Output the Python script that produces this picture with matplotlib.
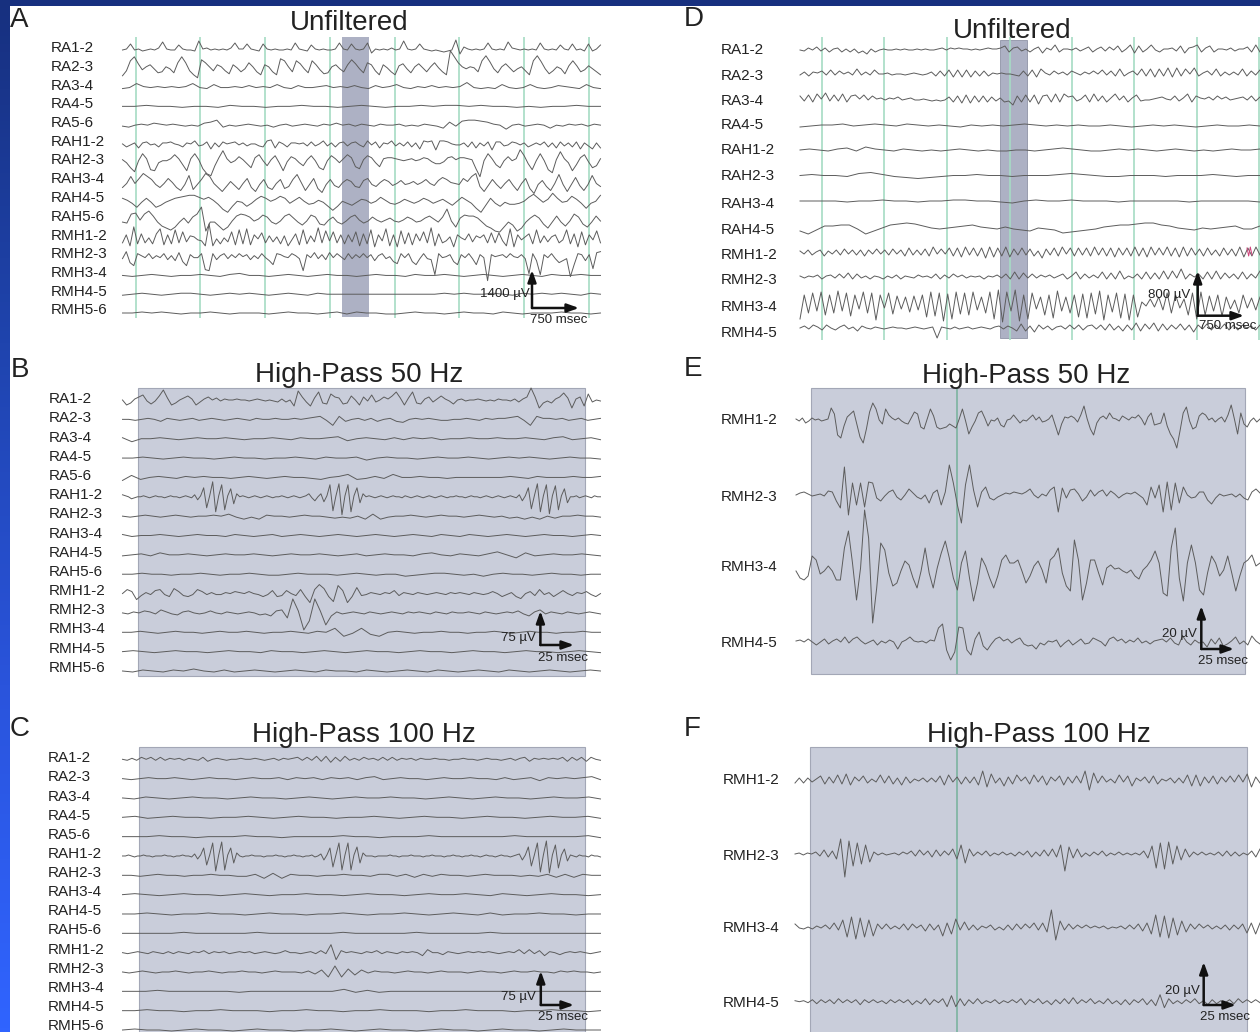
import numpy as np
import matplotlib
matplotlib.use('Agg')
import matplotlib.pyplot as plt
import matplotlib.patches as patches
from matplotlib.colors import LinearSegmentedColormap

plt.rcParams['font.family'] = ['Liberation Sans', 'DejaVu Sans']

# channel names
ch_abc = ['RA1-2', 'RA2-3', 'RA3-4', 'RA4-5', 'RA5-6', 'RAH1-2', 'RAH2-3', 'RAH3-4', 'RAH4-5', 'RAH5-6',
          'RMH1-2', 'RMH2-3', 'RMH3-4', 'RMH4-5', 'RMH5-6']
ch_d = ['RA1-2', 'RA2-3', 'RA3-4', 'RA4-5', 'RAH1-2', 'RAH2-3', 'RAH3-4', 'RAH4-5', 'RMH1-2', 'RMH2-3', 'RMH3-4', 'RMH4-5']
ch_ef = ['RMH1-2', 'RMH2-3', 'RMH3-4', 'RMH4-5']

# --- panel A, deflections ---
a_ra1_2 = [0,1,6,0,1,-1,0,1,0,2,8,1,0,0,5,1,0,0,-1,9,1,2,0,1,0,1,0,2,7,1,1,6,1,0,-1,6,1,0,1,0,0,1,0,7,1,0,-1,5,1,0,
           1,0,0,1,7,1,0,6,1,0,1,7,-3,1,0,1,0,2,0,1,9,1,0,1,6,1,0,-1,0,-1,-2,-1,0,10,-4,3,1,0,1,0,1,7,1,0,1,0,8,2,1,0,
           1,0,1,0,7,1,0,1,0,5,1,0,6,0,1,-1,6,-1,1,5]
a_ra2_3 = [-7,-2,8,12,5,-1,2,4,0,-4,-3,2,0,-4,6,12,6,-2,-6,-9,9,6,2,-2,4,2,-2,-5,4,1,-3,0,6,2,-3,-6,4,2,-3,-6,
           10,8,2,-3,8,5,0,-4,8,4,-1,-5,-4,2,4,0,-3,4,9,5,0,-4,6,4,-2,-6,4,1,-3,-6,3,5,0,-4,2,5,1,-3,2,6,
           1,-3,-6,18,12,6,2,0,2,1,-3,8,13,7,0,-4,2,5,1,-3,0,2,-2,-6,8,13,7,0,-5,-2,2,0,-5,3,8,3,-3,-1,3,0,-3,-6]
a_ra3_4 = [-1,0,4,1,0,1,0,1,0,1,4,0,-1,3,0,0,1,0,2,0,1,0,3,0,-1,2,0,0,1,2,0,1,0,2,0,-1,2,0,1,3,0,-1,1,0,2,0,1,0,
           1,5,0,-1,0,-1,3,0,-1,0,3,0,-1,0,2,1,0,-1,3,0,-1]
a_ra4_5 = [0,0,1,0,0,-1,0,0,-1,1,0,0,-1,0,0,1,0,0,-1,0,1,0,-1,0,0,1,0,1,1,0,1,0,0,-1,0,-1,0,0,1,0,0]
a_ra5_6 = [-1,-2,0,1,0,2,1,0,1,0,-1,0,-1,2,3,5,-2,0,-1,0,1,0,-1,0,-2,0,1,-1,0,1,0,-1,1,0,2,0,1,-1,1,0,-1,1,0,0,1,
           -1,0,-1,1,0,-1,-3,3,-1,4,5,5,4,3,1,0,-4,0,1,-1,0,1,0,-3,0,-1,1,0,1,-1,1,0]
a_rah1_2 = [0,-3,-1,1,-4,1,2,-1,0,-3,1,1,2,0,-1,-3,1,0,3,-2,-1,2,-5,1,-3,2,0,1,2,-1,1,-2,0,0,-2,-3,3,4,-4,2,
            0,-3,1,1,0,1,-2,2,-2,0,3,-2,1,-3,1,2,-2,1,2,-1,-3,3,-1,2,-4,1,0,3,-2,1,-2,2,-3,1,-5,3,2,3,-6,3,
            3,2,0,-1,-1,1,-3,2,-4,1,-2,2,-6,2,2,-2,-1,2,1,-1,1,-3,-1,1,-1,2,-3,1,-4,2,-2,1,-3,2,-5,1,-2,-5,1,-4]
a_rah2_3 = [3,0,-5,-9,2,9,4,-7,-8,0,2,2,4,8,4,-2,-8,4,9,3,-6,-11,-13,-3,5,12,4,0,2,6,3,-1,-5,5,8,2,-3,3,7,0,-8,1,6,
            4,0,-3,3,7,2,-5,-7,2,7,4,0,4,8,5,-4,-6,3,7,5,0,-4,4,5,5,4,3,2,3,4,2,3,5,4,1,-1,-1,1,5,6,3,5,5,4,3,-6,-14,
            2,9,4,-2,-5,2,6,2,4,13,7,-1,-7,2,9,2,-7,-10,3,11,4,0,-8,-2,5,8,1,-5,-3,4]
a_rah3_4 = [-6,-2,5,-2,3,8,5,2,-3,-6,-2,3,-1,-6,-9,-3,6,-8,-3,2,8,5,-2,-6,-10,-5,0,-4,-8,-2,3,-6,-10,-3,2,-6,-8,
            -2,2,-7,-5,2,7,-1,-9,-3,3,-7,-11,-3,2,-4,-6,-1,2,0,-5,-6,1,3,-3,-5,-1,2,0,-4,-2,1,-3,-2,0,-3,-1,2,-2,-4,1,4,2,-1,-2,-3,3,0,5,8,-5,-10,-4,2,-3,-7,
            -2,2,-4,-9,-2,3,-7,-12,-3,1,-5,-9,-2,7,-3,-10,-3,4,-4,-9,-3,6,-2,-5]
a_rah4_5 = [2,0,-3,-7,-2,2,-2,-7,-5,-2,0,2,3,4,5,5,3,1,3,0,-4,-9,-12,-6,-1,-2,-6,-3,1,4,2,-1,1,4,2,-3,0,3,-1,-4,-3,0,-2,-6,-10,-6,
            -1,-3,-5,-2,1,0,-3,-1,3,0,-3,-4,-2,1,-1,-3,-1,2,0,-3,-1,1,-2,-5,-1,3,0,-3,-8,-12,-5,2,-3,-6,-2,-4,-4,-3,-1,3,6,2,-2,1,7,2,-2,-1,4,1,-3,-8,-3,-1,5]
a_rah5_6 = [-3,-4,5,6,-1,5,8,3,-3,-7,-9,-11,-8,-3,1,-4,2,5,12,-12,-3,-3,-7,-11,-8,-2,3,5,4,2,-2,0,4,2,-3,-5,-2,3,5,1,-3,-6,-2,4,2,-5,-6,-1,2,-3,-5,-2,2,4,-1,-4,-2,2,-1,-3,-1,1,-2,-3,-1,2,0,-3,-2,1,3,0,-3,
            2,10,-2,-8,1,4,3,3,1,-3,-7,-9,-12,-13,-8,-3,-6,-12,-9,-3,1,4,1,-5,-9,-3,3,-3,-7,-2,5,2,-5,-8,-3,3,-2]
a_rmh1_2 = [-5,3,-8,11,-6,4,-5,0,-6,4,9,-7,3,-6,8,-5,6,-4,2,1,-2,-3,-8,14,-8,-1,-6,0,-4,6,-7,8,-6,9,-7,3,-1,5,-5,2,-4,1,-6,2,-8,-2,4,-7,8,-6,
            2,-4,10,-5,7,-3,6,-5,3,-6,3,-4,6,-8,4,-6,8,-9,3,-3,9,-8,3,-9,7,-6,5,-7,4,-3,6,-5,10,-8,4,-5,-3,1,-9,3,0,-2,4,-4,2,0,3,-5,5,-5,
            5,-3,-8,9,-9,3,-2,1,4,-6,8,-5,2,-4,1,3,-5,-2,8,-6,4,-9,6,-7,3,-2,7,-5]
a_rmh2_3 = [-2,5,-6,-9,3,1,-1,3,-2,1,-1,3,-3,1,-4,4,-5,-9,2,-1,-1,3,-13,-14,3,-3,1,3,-2,2,-1,3,0,2,-3,1,-2,3,-1,-4,-8,3,2,0,-1,3,1,-2,-14,2,
            -1,4,-2,2,-3,4,-1,3,0,-3,3,-2,2,-1,3,-1,2,-4,1,3,-2,0,-5,-7,3,-1,3,-5,-8,-2,3,-2,-3,-18,3,-1,0,2,-5,-8,2,-1,3,-2,-8,2,-1,-24,2,0,1,2,-1,3,0,-1,
            2,-2,-17,3,-4,-18,2,-1,3,-2,-6,-4,-2,-20,-8,3,2,-4,2,-12,4,5]
a_rmh3_4 = [0,-1,0,1,0,-1,0,0,1,0,-1,1,2,0,0,-1,0,1,0,-1,0,1,0,0,-1,0,1,0,0,-1,1,0,0,1,0,-1,0,1,0,-1,0,1,0,-1,1,0,0,1,0,0]
a_rmh4_5 = [-1,0,1,0,-1,0,1,1,0,-1,0,1,0,1,0,-1,0,1,0,-1,1,0,0,0,0,0,0,0,0,0,0,0,0,1,0,1,0,0,1,0,-1,1,0,1,0,1,0,-1,1,0]
a_rmh5_6 = [0,0,1,0,1,0,-1,0,0,1,0,-1,0,0,0,-1,0,1,0,0,-1,0,1,-1,1,0,0,-1,-1,0,1,0,0,-1,0,1,0,0,-1,1,0,-1,0,0,0,1,0,0,-1,0]

# --- panel B ---
b_ra1_2 = [0,-5,-3,1,3,5,-1,-4,-1,4,10,2,-5,-3,0,2,4,1,-5,-2,1,3,0,2,-1,1,0,0,1,0,0,-1,0,1,0,-1,0,-1,-2,1,-2,0,-6,9,3,-2,-6,2,8,-3,-4,6,
           3,2,-4,-3,4,0,-5,3,-1,5,-2,0,3,1,4,8,2,-5,2,8,-3,-4,1,3,-2,1,4,1,-1,-4,0,1,-1,0,0,1,0,-1,0,-1,1,0,0,-1,1,-2,1,3,12,3,-8,-3,-1,
           -3,1,3,7,2,-8,1,3,-6,6,-2,0,-1]
b_ra2_3 = [0,0,-1,0,1,0,-2,1,0,-1,0,1,-1,0,1,0,-1,0,1,0,-1,1,0,0,1,0,0,1,0,1,2,3,-1,-6,3,-2,0,1,-1,1,-2,0,1,-2,-3,0,1,0,1,0,-1,-1,0,0,1,0,-1,1,0,1,1,2,3,-1,-6,3,1,1,0,1,-1,0,1,-1,0,1]
b_ra3_4 = [1,-3,0,0,1,0,-1,0,1,0,0,1,0,-1,0,0,1,0,-1,1,0,0,1,2,-2,0,1,0,-1,1,-1,1,0,1,-1,0,0,1,0,0,1,0,0,1,0,-1,1,2,-1,0,1,-1]
b_ra4_5 = [0,0,1,0,-1,0,1,0,0,-1,0,1,0,0,-1,0,0,1,0,-1,1,0,0,1,-2,0,1,0,0,-1,0,1,0,0,1,0,-1,0,1,0,1,0,-1,0,1,0,0,-1]
b_ra5_6 = [-3,2,-2,0,1,0,-1,1,0,1,0,0,-1,0,1,0,-1,0,1,0,0,-1,-2,0,1,3,-2,-1,1,-1,3,0,0,1,0,0,-1,0,0,0,0,0,0,1,0,-1,1,0,0,0,1,0,0,1]
b_rah1_2 = [2,1,0,-2,-1,0,0,1,0,-1,0,1,0,0,-1,0,1,0,0,-1,0,1,0,-1,
            2,-3,1,9,-11,1,15,-15,1,12,-13,1,8,-7,3,
            0,1,0,-1,0,1,0,-1,0,1,0,-1,0,0,1,0,-1,0,1,0,-1,0,1,3,-1,-4,0,
            3,-5,1,12,-14,1,13,-18,1,12,-15,1,9,-6,3,
            0,1,0,-1,0,1,0,-1,0,1,0,0,-1,1,0,-1,0,1,0,-1,0,1,0,-1,0,1,0,-1,0,0,1,0,0,-1,0,1,0,0,-1,0,1,0,-1,0,1,0,-1,0,1,0,-1,
            2,-4,1,9,-12,1,13,-15,1,12,-17,1,11,-13,1,8,-6,
            0,0,1,-1,0,1,0,-1,1,0,0]
b_rah2_3 = [0,-1,0,1,0,-1,0,1,0,-1,0,0,1,0,2,-1,-3,-1,-3,1,0,0,-1,0,1,0,0,-1,-2,-1,-2,0,-3,2,-3,-1,0,0,1,0,-1,0,1,0,0,-1,0,1,0,-1,0,-2,-1,-3,-1,-3,0,-2,0,0,1,0,0,-1]
b_rah3_4 = [1,-1,0,0,1,0,-1,0,1,0,0,-1,1,0,-1,0,1,-1,0,1,0,-1,0,1,0,-1,0,1,0,-1,0,1,0,-1,1,0,-1,1,0,-1,0,1,0,-1,0,1,0,0,-1,0,1,0]
b_rah4_5 = [-1,0,1,-1,2,0,0,1,0,-1,0,1,0,0,1,0,-1,0,1,0,0,1,0,-1,0,1,-1,0,1,0,0,-1,1,2,0,-1,1,0,-1,1,3,0,-3,2,-1,0,1,0,0,1,0,-1]
b_rah5_6 = [0,0,1,0,0,-1,0,0,1,0,-1,0,0,1,0,-1,-1,0,1,0,0,0,-1,0,1,0,-1,0,0,-2,-1,0,1,1,0,-1,0,-2,0,1,0,0,-1,0,1,0,0,-1,0,0]
b_rmh1_2 = [0,4,2,-6,-2,1,-1,3,4,-1,-3,5,2,-2,-3,-1,4,2,-1,1,-1,-1,1,0,2,1,0,2,0,-1,-3,-1,3,-3,-2,3,0,-2,4,-3,-9,4,9,5,-3,-8,8,3,-9,-3,
            6,-2,-1,1,0,-1,1,0,3,-2,1,0,-1,1,0,-1,0,1,0,-1,1,0,1,0,-1,1,0,-1,0,2,0,-3,-1,1,-3,-5,0,2,-2,4,-1,1,-3,0,3,0,-2,1,0,2,-1,-3,0]
b_rmh2_3 = [0,-1,1,0,2,1,-1,3,1,-1,-2,1,2,0,-1,0,2,0,-1,1,0,-1,0,1,0,-2,-1,-3,2,3,-5,14,2,-17,-8,14,2,-12,-3,1,-1,0,1,0,-1,1,0,-1,0,1,0,-1,1,0,1,0,-1,1,0,-1,1,0,0,1,0,-1,1,0,-1,0,1,0,2,-1,-3,1,3,-1,1,0,-1,1,0,-1,0,1,0,-1]
b_rmh3_4 = [0,0,1,0,-1,0,1,0,0,-1,0,1,0,0,1,0,-1,0,0,1,0,-1,1,0,4,-4,-1,4,-2,-4,0,1,0,-1,0,0,1,0,0,-1,0,0,1,0,-1,0,1,0,0,-1,0,0,1,0,0]
b_rmh4_5 = [0,1,0,-1,0,1,0,0,-1,0,1,0,0,-1,1,0,0,-1,0,1,0,-1,0,1,0,0,-1,0,1,0,0,-1,0,1,0,0,-1,0,1,0,0,-1,0,1,0,-1]
b_rmh5_6 = [0,-1,1,0,-1,1,0,2,0,-1,1,-1,0,1,0,-1,0,1,0,-1,1,0,0,-1,1,0,-1,0,1,0,-1,1,0,-1,0,1,0,-1,1,0,-1,0,1,0,-1,0,1,0]

# --- panel C ---
c_ra1_2 = [0,-1,1,-1,2,0,2,-1,2,-1,1,0,1,-1,1,0,-1,2,-2,0,1,0,-1,0,0,1,0,0,1,0,-1,0,1,-1,1,0,1,2,-1,2,-1,3,-2,3,-3,2,-2,3,-1,1,
           -1,2,0,1,-1,2,-1,2,-1,1,0,1,-1,1,0,0,1,0,0,-1,0,0,1,0,0,-1,0,1,0,0,-1,0,1,-1,1,2,-2,1,0,1,0,1,0,2,-2,2,-1,2,-2,2,0,-1]
c_ra2_3 = [0,-1,0,1,0,0,1,0,-1,0,1,0,0,-1,0,1,0,0,1,-1,1,0,1,-1,1,0,1,-1,1,2,-1,0,1,0,0,-1,0,1,0,0,1,0,0,-1,1,-1,0,1,-2,1,0,1,0,1,2,-1]
c_ra3_4 = [0,-1,1,0,-1,0,1,0,0,-1,0,1,0,0,-1,0,1,0,-1,0,1,0,0,1,0,0,-1,0,1,0,-1,0,1,0,0,-1,0,1,0,0,1,-1]
c_ra4_5 = [0,1,-1,0,1,0,0,-1,0,0,1,0,-1,0,1,0,0,-1,0,0,1,0,-1,0,1,0,0,-1,0,1,0,0,-1,0,1,0,0,1,-1]
c_ra5_6 = [0,0,0,1,0,0,-1,0,0,0,1,0,0,-1,0,0,0,0,1,0,0,-1,0,0,0,1,0,0,0,0,0,0,1,0,0,0,0,0,1,-1]
c_rah1_2 = [0,0,1,0,-1,0,0,1,0,0,-1,0,0,0,1,0,0,-1,0,0,1,0,0,-1,
            2,-3,1,8,-9,1,13,-15,1,14,-14,1,8,-7,3,
            0,-1,0,0,1,0,0,0,-1,0,0,0,1,0,0,-1,0,0,1,0,0,-1,0,0,1,-1,0,
            2,-4,1,8,-11,1,13,-14,1,13,-14,1,9,-7,3,
            0,0,0,-1,0,0,0,0,1,0,0,-1,0,0,0,1,0,0,0,-1,0,0,1,0,0,0,-1,0,0,1,0,0,-1,0,0,1,0,0,-1,0,1,0,0,-1,0,1,0,0,-1,0,1,
            2,-4,1,9,-10,1,13,-16,1,15,-17,1,11,-12,1,7,-5,
            1,0,-1,1,0,0,-1,1,0,0,-1]
c_rah2_3 = [0,0,-1,0,1,0,0,-1,0,0,1,0,0,-1,-1,1,-3,2,-3,1,0,0,-1,0,0,1,0,0,-1,1,1,-1,1,-2,1,-1,1,0,0,-1,0,1,0,0,0,-1,0,-1,1,-2,1,-2,1,0,0]
c_rah3_4 = [0,1,0,-1,0,1,0,0,-1,0,1,0,-1,0,0,1,0,0,-1,0,1,0,0,-1,0,1,0,0,1,0,-1,1,0,-1,0,1,0,0,-1,0]
c_rah4_5 = [0,0,1,0,-1,0,0,1,0,0,-1,0,1,0,0,-1,0,0,1,0,-1,0,0,1,0,-1,0,1,0,-1,1,-1,0,0,1,0,0,-1,0,0]
c_rah5_6 = [0,0,0,0,0,1,0,0,0,0,0,1,0,0,0,0,0,0,1,0,0,0,0,0,1,0,0,0,0,0,1,0,0,0,0,0,0,0,0,0]
c_rmh1_2 = [0,-1,0,1,0,-1,1,0,-1,1,-1,1,0,-1,1,0,2,-1,1,0,1,-1,0,1,0,1,-1,0,1,0,-1,0,2,0,0,-1,0,1,-1,2,-1,8,-7,2,0,1,0,-1,1,0,2,-1,1,0,-1,1,0,1,0,-3,3,0,0,-2,1,0,-1,0,1,0,1,0,1,0,-1,0,1,0,3,-1,3,-1,2,-3,1,0,-2,0,1,0,1,0,-1,0,1]
c_rmh2_3 = [0,-1,0,1,0,-1,0,0,1,0,-1,0,0,1,0,-1,0,0,1,0,0,-1,0,1,0,0,0,-1,1,-2,2,-5,6,-5,3,-3,2,-1,1,0,0,-1,0,1,0,0,-1,0,1,0,0,0,-1,0,1,0,0,-1,0,1,0,0,1,0,0,-1,1,0,1,0,0,-1,0]
c_rmh3_4 = [0,0,0,1,0,0,0,0,0,0,-1,0,0,0,0,0,0,0,0,2,-1,1,-1,0,0,0,0,0,0,0,0,0,0,0,0,0,0,0,0,0,0,0]
c_rmh4_5 = [0,0,1,0,0,-1,0,0,1,0,0,0,-1,0,0,1,0,0,-1,0,0,1,0,0,0,-1,0,0,1,0,0,0,-1,0,0,1,0,0,-1,0]
c_rmh5_6 = [0,1,0,0,-1,0,1,0,0,-1,0,1,0,0,-1,0,0,1,0,-1,0,1,0,0,-1,0,1,0,0,-1,0,1,0,0,-1,0,1,0,0,0]

# --- panel D ---
d_ra1_2 = [0,-1,2,0,3,-1,2,-2,1,2,-2,1,-2,1,-3,-1,-4,1,-2,0,1,0,0,1,0,1,0,0,1,0,1,0,0,1,2,0,2,1,2,1,1,0,1,0,1,2,1,1,2,4,-2,2,3,-1,1,-2,1,
           3,-3,2,0,5,-2,1,1,0,2,-1,1,3,-2,1,3,-1,3,0,4,-2,1,5,-3,4,-2,1,5,0,-2,1,1,2,-1,4,-3,2,3,5,-2,2,4,-2,1,1,0,2,-1,1,1,3,-2,5,-2]
d_ra2_3 = [-1,2,-2,2,1,3,-1,4,-1,3,0,2,-1,5,-1,2,-1,4,0,0,1,-1,0,0,-1,0,1,0,-1,0,2,-2,3,-2,4,-3,4,-3,4,-3,3,-2,3,-2,1,0,1,0,0,-1,-2,3,-2,4,-3,5,1,-1,3,0,2,-1,3,1,-1,2,0,3,0,4,-1,3,-2,5,-2,
           1,3,-1,5,-2,5,-3,5,-2,6,-3,6,-2,5,0,6,-2,1,3,-1,5,-2,2,-1,2,-1,5,-2,3,-1,4]
d_ra3_4 = [3,-2,4,-3,5,0,6,-2,4,-2,5,-3,3,4,0,4,-1,3,0,1,-1,1,0,2,-1,0,1,-1,-1,0,-1,-2,-1,-2,-1,2,-3,3,-4,4,-4,3,-3,3,-3,2,-2,1,-3,-2,-6,3,-3,4,-3,4,-5,3,4,-3,5,-3,5,2,3,-2,0,4,-3,5,-2,3,-3,
           1,5,-1,3,-3,1,4,-2,-1,-1,0,1,2,0,-1,3,-2,1,5,-3,3,1,0,2,-1,3,0,2,-1,0,1,2,-1,3,-2,2]
d_ra4_5 = [-1,0,1,1,2,0,1,2,1,0,2,1,0,1,0,-1,1,0,1,0,1,2,1,0,1,0,1,0,0,1,0,-1,0,1,0,1,0,-1,0,1,0,0,1,0]
d_rah1_2 = [0,1,0,-1,1,2,-1,3,1,0,-1,1,0,-1,0,-1,0,1,0,-1,0,-1,-1,0,0,-1,0,1,2,1,0,-1,-1,0,1,0,1,0,-1,0,1,0,-1,0,-1,0,1,0,0,1]
d_rah2_3 = [0,1,0,0,-1,2,3,1,-1,-2,-3,-2,-1,0,0,1,0,0,-1,0,0,0,1,2,1,0,-1,-1,0,0,0,-1,0,0,0,1,0,-1,0,0]
d_rah3_4 = [0,0,0,0,-1,0,0,1,0,0,-1,0,0,1,1,0,0,-1,-2,0,1,0,0,1,0,0,0,-1,0,0,0,0,0,-1,0,0,0,0,0,-1]
d_rah4_5 = [-3,-6,-2,2,2,3,3,-1,-6,-3,0,3,4,5,4,2,0,-1,0,1,2,3,1,0,-1,1,-1,-2,-3,0,-1,-2,-5,-4,-3,-2,-1,1,2,3,3,4,5,5,3,2,0,-1,-2,0,-1,0,1,2,-1,-1,2]
d_rmh1_2 = [2,-1,3,-2,1,3,-3,2,-1,3,-2,4,-1,3,-2,3,-3,3,-1,4,-1,3,-2,4,-1,3,-3,5,-2,3,-2,4,-3,6,-1,4,-1,5,-3,5,-4,6,-2,5,-3,5,-5,6,-4,5,-3,6,-4,4,-2,5,-2,4,-3,2,-5,4,-2,5,-3,6,-1,5,-3,5,-2,
            5,-3,6,-2,5,-3,5,-4,5,-2,5,-3,6,-3,5,-4,6,-2,5,-2,6,-3,5,-4,6,-3,5,-2,4,-3,5,-2,3,-3,5,-2,4,-3,6,-4,5,-3,6,-2]
d_rmh1_2_pink = [5,-3,6,-2]
d_rmh2_3 = [1,-1,1,0,2,-2,1,2,-1,3,-1,4,-2,3,-1,1,-2,1,0,-2,1,-1,2,-2,1,0,-1,2,0,1,-1,3,-2,2,-1,3,0,2,-1,1,0,1,-2,1,0,2,-1,3,-2,5,-2,4,-1,3,-1,2,0,2,-1,1,3,-2,1,5,-2,3,-1,2,-1,5,-2,4,-2,6,-2,
            1,-1,3,-2,5,-2,4,-2,6,-2,6,-1,8,-2,3,0,3,-2,5,-2,6,-2,4,-1,3,-2,5,-2,3,-1,6]
d_rmh3_4 = [-14,10,-8,12,-6,13,-10,10,-8,14,-6,12,-11,10,-4,13,-8,12,-15,10,-3,12,-9,9,-4,8,-7,9,-5,10,-12,13,-11,12,-16,11,-14,13,-9,12,-10,13,-5,8,-8,13,-14,15,-17,13,-6,15,-16,10,-14,12,-4,8,-10,10,-13,14,
            -6,8,-8,10,-12,11,-13,12,-9,14,-15,10,-7,12,-13,11,-15,10,-12,3,-1,6,-2,8,-5,12,-8,10,-3,6,-10,12,-14,13,-10,9,-6,10,-11,8,-4,5,-8,10,-3,7,-5,8]
d_rmh4_5 = [0,2,-1,3,1,-2,3,0,-2,1,3,-1,1,-3,2,0,-1,1,0,-1,0,1,0,0,-1,0,1,0,-1,0,1,-10,1,0,-1,1,-1,0,1,-1,0,1,0,-1,1,2,-1,2,0,-3,4,-3,2,-4,3,-1,2,-2,1,2,-1,3,-1,3,-2,2,3,-1,3,-2,4,-2,
            2,-3,3,-2,5,-3,4,-1,5,-3,4,-2,3,-1,4,-2,3,-4,3,-1,4,-2,3,-1,4,-2,3,-2,3,0,2,-2,3]

# --- panel E ---
e_rmh1_2 = [2,0,3,-2,0,3,1,2,0,1,2,13,7,-14,-17,-5,4,7,10,-3,-16,-22,-8,9,18,12,1,-3,12,6,3,1,3,0,-2,-3,3,9,7,-6,-8,2,12,5,-6,-8,-7,-6,-3,-5,-7,2,12,0,-13,-6,0,8,10,3,-5,1,0,3,-4,-6,1,2,6,2,-2,1,0,3,6,1,4,-1,0,2,6,-4,-14,-3,4,3,5,3,-1,6,15,2,-8,-14,-2,3,5,2,8,3,2,0,5,
            3,1,4,3,6,2,-4,4,8,-4,-3,-2,8,-5,-13,-18,-27,-10,8,14,0,-8,-6,5,8,6,1,3,-1,2,4,-1,6,16,2,-13,8,-3,-6,0,3,-1,2]
e_rmh2_3 = [0,2,3,1,-1,0,1,-1,4,3,-6,-13,28,-20,12,-10,12,-12,13,12,-3,-6,-1,3,5,-2,-5,0,6,2,-2,-4,0,-8,2,5,-10,3,30,12,-10,-28,10,30,5,-12,3,8,-3,-5,-2,0,2,1,3,2,1,3,6,0,-3,1,-1,5,8,-17,7,-3,5,6,1,-6,-2,5,-1,3,5,-1,4,1,-3,0,2,1,3,0,-3,-10,8,-3,10,-17,13,-15,12,-8,8,0,-3,-2,3,3,-5,-9,-3,1,-1,0,1,-2,1,-3,-5,3,6,2]
e_rmh3_4 = [-3,-10,-12,-8,12,8,-6,-3,2,-3,-12,-12,20,37,5,-32,0,58,30,-55,-20,25,18,-5,-18,-15,-3,7,3,-10,-20,-3,20,-5,-20,0,15,27,10,-10,-22,5,17,-10,-33,-15,10,2,-10,-20,-8,8,13,5,5,8,-3,-15,-8,2,7,-2,-15,8,12,20,-5,-18,-23,28,8,-32,-15,8,8,-5,-17,0,3,-1,0,-3,-5,-2,-8,-11,-2,2,8,17,5,-25,-28,20,40,-10,-33,5,23,5,-22,-27,-5,12,5,-8,-2,12,-5,-23,-8,5,8,13,2,5]
e_rmh4_5 = [1,2,0,3,0,-3,0,3,-2,1,3,0,5,-1,3,5,1,-2,0,2,-3,1,-1,2,0,-7,0,2,5,1,0,1,-1,2,1,14,18,-8,-18,-10,15,14,-8,-13,3,10,-4,-8,-2,3,5,1,3,-1,2,4,-2,-4,-3,-7,-1,-3,1,0,2,-5,-1,2,-3,0,3,-2,-1,4,2,0,-4,3,5,1,3,-1,2,0,4,-1,1,-2,1,2,3,0,4,-1,-3,
            6,0,-3,2,-1,0,-5,3,-2,4,-4,-2,1,5,-2,1,-3,6,1,-2]

# --- panel F ---
f_rmh1_2 = [-3,2,-3,2,-2,1,4,-4,3,-3,5,-4,6,-5,3,-1,4,-3,1,-2,5,-3,4,-4,2,-5,3,-3,1,-1,2,-2,2,-2,4,-5,5,-2,3,-4,3,-3,3,-5,9,-7,6,-3,2,-6,3,-4,5,-1,3,-4,5,-2,4,-5,3,-1,4,-5,3,-3,4,-3,9,-10,7,-3,4,-2,1,-3,5,-2,4,-6,
            2,-1,3,-3,4,-4,1,-1,2,-3,2,-3,5,-6,5,-6,3,-3,4,-4,3,-2,4,-2,5,-2,6,-7,3,-3]
f_rmh2_3 = [0,1,-1,1,0,2,-2,4,-3,3,-5,15,-23,13,-12,11,-10,9,-8,2,-1,1,-1,0,1,-1,2,0,3,-2,4,-1,3,-3,4,-2,3,-1,5,-5,9,-9,5,-2,2,-1,3,-2,1,-1,2,-1,1,-2,2,-1,3,-3,2,-2,4,-2,5,-3,9,-17,7,-4,5,-3,1,-2,2,-1,3,-2,1,-1,2,-1,
            1,-1,1,-1,3,-4,8,-14,11,-15,12,-10,8,-6,5,-3,2,-1,2,-1,1,-1,2,-2,3,-2,2,-2,1,-1,3,-3,5]
f_rmh3_4 = [3,-1,-2,0,-2,1,-1,2,-2,4,-3,7,-10,10,-12,9,-10,7,-9,3,-2,3,-2,1,-2,3,-3,3,-1,2,-4,3,-3,2,-9,4,-7,8,-3,5,-3,2,-3,1,-1,2,-3,0,-3,2,-3,3,-2,3,-1,4,-3,4,-5,17,-13,6,-3,3,-2,2,-1,2,-1,1,-1,1,-2,0,-1,1,-2,
            2,-2,3,-4,4,-7,12,-10,11,-11,9,-8,6,-5,3,-2,3,-1,2,-2,1,-2,2,-3,2,-2,3,-6,4,-7,4]
f_rmh4_5 = [1,0,1,-1,2,-2,2,-1,2,-2,3,-1,2,-1,2,-3,2,-1,2,-1,1,-2,2,-1,2,-1,2,-3,1,-2,3,-3,2,-1,3,-5,6,-5,3,-4,2,-2,3,-2,1,-1,2,-2,1,-1,2,-1,3,-3,2,-1,3,-2,1,-3,2,-2,3,-2,4,-2,2,-1,3,-2,1,-2,3,-2,1,-3,2,-3,
           2,-1,3,-3,2,-4,7,-6,3,-2,1,-2,2,-1,3,-2,1,-3,2,-2,1,-1,2,-2,3,-1,2,-1,2,-1]

scale_labels = {'A': ('1400 µV', '750 msec'), 'B': ('75 µV', '25 msec'), 'C': ('75 µV', '25 msec'),
                'D': ('800 µV', '750 msec'), 'E': ('20 µV', '25 msec'), 'F': ('20 µV', '25 msec')}

TRACE = '#5c5c5c'
GREEN = '#a6dcc4'
TXT = '#222222'
SHADE = '#c9cdda'
BAND = '#adb1c4'

fig = plt.figure(figsize=(12.6, 10.32), dpi=100)
ax = fig.add_axes([0, 0, 1, 1])

# slide background: white page on a blue gradient
cmap = LinearSegmentedColormap.from_list('slide', ['#17307f', '#1f44ae', '#2a54dc', '#3064ff'])
ax.imshow(np.linspace(0, 1, 256)[:, None], extent=(0, 1260, 1032, 0), aspect='auto', cmap=cmap, zorder=0)
ax.add_patch(patches.Rectangle((10, 6), 1250, 1026, facecolor='white', edgecolor='none', zorder=0.5))
ax.set_xlim(0, 1260)
ax.set_ylim(1032, 0)
ax.axis('off')


def draw_traces(traces, x0, x1, bases, color=TRACE):
    for vals, base in zip(traces, bases):
        xs = np.linspace(x0, x1, len(vals))
        ax.plot(xs, base - np.array(vals, dtype=float), color=color, lw=0.7, zorder=3, solid_joinstyle='round')


def draw_labels(names, left, ys, letter, lx, ly, title, tx, ty):
    for name, y in zip(names, ys):
        ax.text(left, y + 1, name, fontsize=11, color=TXT, ha='left', va='center', zorder=5)
    ax.text(lx, ly + 2, letter, fontsize=20, color=TXT, ha='left', va='center', zorder=5)
    ax.text(tx, ty + 2, title, fontsize=20, color=TXT, ha='center', va='center', zorder=5)


def scale_bar(cx, cy, top, right, letter, ulx, uly, tcx, tcy):
    for xy in ((cx, top), (right, cy)):
        ax.annotate('', xy=xy, xytext=(cx, cy), zorder=6,
                    arrowprops=dict(arrowstyle='-|>,head_length=0.7,head_width=0.25', color='#111111', lw=1.8,
                                    shrinkA=0, shrinkB=0))
    ax.text(ulx, uly + 1, scale_labels[letter][0], fontsize=9.5, color=TXT, ha='right', va='center', zorder=6)
    ax.text(tcx, tcy + 1, scale_labels[letter][1], fontsize=9.5, color=TXT, ha='center', va='center', zorder=6)


# A
ax.add_patch(patches.Rectangle((341.5, 37), 27, 280, facecolor=BAND, edgecolor='none', zorder=1))
ax.vlines([135.8, 200, 265, 330, 394.5, 459, 524, 588.6], 37, 318, color=GREEN, lw=1.2, zorder=2)
draw_traces([a_ra1_2, a_ra2_3, a_ra3_4, a_ra4_5, a_ra5_6, a_rah1_2, a_rah2_3, a_rah3_4, a_rah4_5, a_rah5_6,
             a_rmh1_2, a_rmh2_3, a_rmh3_4, a_rmh4_5, a_rmh5_6], 122.5, 600.5, np.linspace(50, 313, 15))
draw_labels(ch_abc, 51, np.linspace(47, 309.5, 15), 'A', 10, 18, 'Unfiltered', 349.5, 21)
scale_bar(532, 308, 270, 579, 'A', 530, 293, 559, 319)

# B
ax.add_patch(patches.Rectangle((138, 388), 447, 288, facecolor=SHADE, edgecolor='#a3a7b6', lw=0.8, zorder=1))
draw_traces([b_ra1_2, b_ra2_3, b_ra3_4, b_ra4_5, b_ra5_6, b_rah1_2, b_rah2_3, b_rah3_4, b_rah4_5, b_rah5_6,
             b_rmh1_2, b_rmh2_3, b_rmh3_4, b_rmh4_5, b_rmh5_6], 122.5, 600.5, np.linspace(400, 671, 15))
draw_labels(ch_abc, 49, np.linspace(398.3, 666.7, 15), 'B', 11, 368, 'High-Pass 50 Hz', 359.5, 373)
scale_bar(540.4, 645, 611, 574, 'B', 536, 636.5, 562.5, 657)

# C
ax.add_patch(patches.Rectangle((139, 747), 446, 290, facecolor=SHADE, edgecolor='#a3a7b6', lw=0.8, zorder=1))
draw_traces([c_ra1_2, c_ra2_3, c_ra3_4, c_ra4_5, c_ra5_6, c_rah1_2, c_rah2_3, c_rah3_4, c_rah4_5, c_rah5_6,
             c_rmh1_2, c_rmh2_3, c_rmh3_4, c_rmh4_5, c_rmh5_6], 122.5, 600.5, np.linspace(759.3, 1030, 15))
draw_labels(ch_abc, 47.5, np.linspace(757.3, 1025, 15), 'C', 10, 727, 'High-Pass 100 Hz', 363.5, 733)
scale_bar(540.8, 1005, 971, 574, 'C', 536, 996, 562.5, 1016)

# D
ax.add_patch(patches.Rectangle((1000, 40), 26.5, 298, facecolor=BAND, edgecolor='#8f93a6', lw=0.6, zorder=1))
ax.vlines([822, 884.3, 946.6, 1009.7, 1072.3, 1134.2, 1196.5, 1258.8], 37, 340, color=GREEN, lw=1.2, zorder=2)
draw_traces([d_ra1_2, d_ra2_3, d_ra3_4, d_ra4_5, d_rah1_2, d_rah2_3, d_rah3_4, d_rah4_5, d_rmh1_2, d_rmh2_3,
             d_rmh3_4, d_rmh4_5], 800, 1260, [50, 74, 99, 126, 150, 175.5, 201, 228, 253, 277, 305, 328])
draw_traces([d_rmh1_2_pink], 1247, 1252, [253], color='#d0407a')
draw_labels(ch_d, 721, [49, 75, 100, 124, 149, 175, 203, 229, 254, 279, 306, 332], 'D', 684, 17, 'Unfiltered', 1012, 29)
scale_bar(1197.7, 315.7, 271, 1244, 'D', 1190.5, 294, 1228, 325)

# E
ax.add_patch(patches.Rectangle((810.5, 388), 434, 285.5, facecolor=SHADE, edgecolor='#a3a7b6', lw=0.8, zorder=1))
ax.vlines([956.6], 388, 673.5, color='#7cb3a0', lw=1.2, zorder=2)
draw_traces([e_rmh1_2, e_rmh2_3, e_rmh3_4, e_rmh4_5], 796, 1260, [421, 495, 568, 642])
draw_labels(ch_ef, 721, [419, 495.7, 565.7, 641.7], 'E', 683.5, 367, 'High-Pass 50 Hz', 1026.5, 374)
scale_bar(1201.3, 649, 606, 1234, 'E', 1197, 633, 1222.5, 660)

# F
ax.add_patch(patches.Rectangle((809.5, 747), 437, 290, facecolor=SHADE, edgecolor='#a3a7b6', lw=0.8, zorder=1))
ax.vlines([956.6], 747, 1032, color='#7cb3a0', lw=1.2, zorder=2)
draw_traces([f_rmh1_2, f_rmh2_3, f_rmh3_4, f_rmh4_5], 795, 1260, [780, 854, 927, 1001.7])
draw_labels(ch_ef, 723, [779.5, 855, 926.5, 1002], 'F', 684, 727, 'High-Pass 100 Hz', 1038.5, 733)
scale_bar(1203.7, 1005, 962, 1236, 'F', 1199.7, 990, 1224.5, 1016)

fig.savefig('out.png', dpi=100)
